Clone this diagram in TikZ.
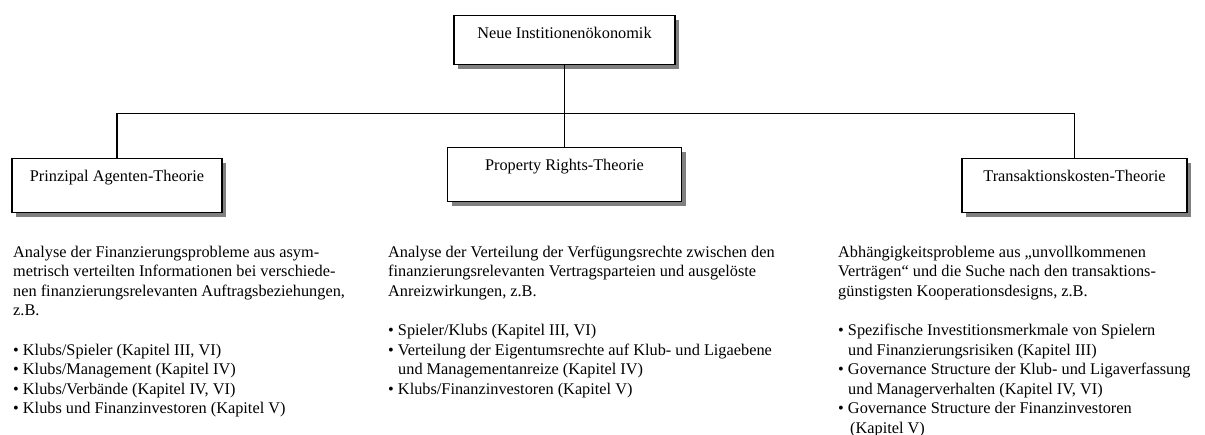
\documentclass[tikz,border=0pt]{standalone}
\usepackage{fontspec}
\setmainfont{Liberation Serif}
\usetikzlibrary{positioning,shadows}

\begin{document}
\begin{tikzpicture}[
    x=1pt, y=1pt,
    font=\fontsize{16.3}{19.6}\selectfont,
    box/.style={rectangle,draw,line width=1.4pt,fill=white,anchor=north,
      inner xsep=0pt,inner ysep=11pt,text height=12pt,text depth=20pt,
      drop shadow={shadow xshift=4pt,shadow yshift=-4pt,fill=black!50,opacity=1}},
    link/.style={line width=1.4pt},
    desc/.style={anchor=base west,align=left,inner sep=0pt}
]
\useasboundingbox (0,0) rectangle (1205,-434);
% boxes
\node[box,minimum width=221pt,text depth=15pt] (nie) at (564.5,-15) {Neue Institionenökonomik};
\node[box,minimum width=210pt] (pat) at (117,-158) {Prinzipal Agenten-Theorie};
\node[box,minimum width=234pt] (prt) at (564.5,-147) {Property Rights-Theorie};
\node[box,minimum width=225pt] (tkt) at (1074.5,-158) {Transaktionskosten-Theorie};
% connectors
\draw[link] (nie.south) -- ++(0,-48) coordinate (bus);
\draw[link] (pat.north) |- (bus) -| (tkt.north);
\draw[link] (bus) -- (prt.north);
% descriptions (anchored at the baseline of the last line)
\node[desc] (patText) at (13,-413.8) {Analyse der Finanzierungsprobleme aus asym-\\metrisch verteilten Informationen bei verschiede-\\nen finanzierungsrelevanten Auftragsbeziehungen,\\z.B.\\[19.6pt]%
• Klubs/Spieler (Kapitel III, VI)\\%
• Klubs/Management (Kapitel IV)\\%
• Klubs/Verbände (Kapitel IV, VI)\\%
• Klubs und Finanzinvestoren (Kapitel V)};
\node[desc] (prtText) at (388,-394.2) {Analyse der Verteilung der Verfügungsrechte zwischen den\\finanzierungsrelevanten Vertragsparteien und ausgelöste\\Anreizwirkungen, z.B.\\[19.6pt]%
• Spieler/Klubs (Kapitel III, VI)\\%
• Verteilung der Eigentumsrechte auf Klub- und Ligaebene\\%
\hspace*{10pt}und Managementanreize (Kapitel IV)\\%
• Klubs/Finanzinvestoren (Kapitel V)};
\node[desc] (tktText) at (838,-433.4) {Abhängigkeitsprobleme aus „unvollkommenen\\Verträgen“ und die Suche nach den transaktions-\\günstigsten Kooperationsdesigns, z.B.\\[19.6pt]%
• Spezifische Investitionsmerkmale von Spielern\\%
\hspace*{10pt}und Finanzierungsrisiken (Kapitel III)\\%
• Governance Structure der Klub- und Ligaverfassung\\%
\hspace*{10pt}und Managerverhalten (Kapitel IV, VI)\\%
• Governance Structure der Finanzinvestoren\\%
\hspace*{12pt}(Kapitel V)};
\end{tikzpicture}
\end{document}
